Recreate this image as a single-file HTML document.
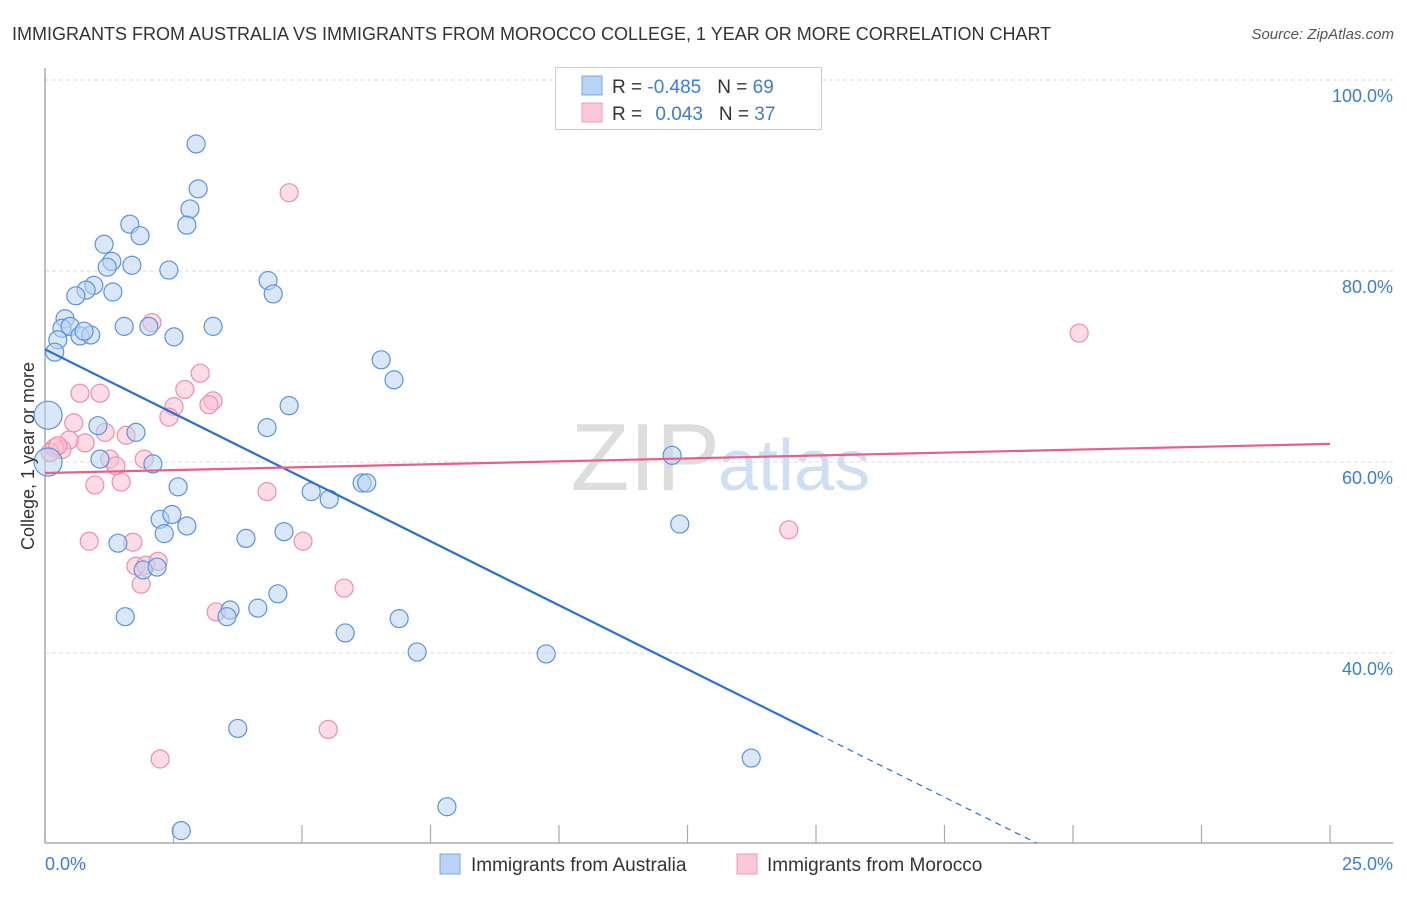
<!DOCTYPE html>
<html><head><meta charset="utf-8"><style>
body{margin:0;background:#fff;font-family:"Liberation Sans",sans-serif;}
svg text{font-family:"Liberation Sans",sans-serif;}
</style></head><body>
<svg id="chart" width="1406" height="892" viewBox="0 0 1406 892">
<text x="12" y="40" font-size="18" fill="#333">IMMIGRANTS FROM AUSTRALIA VS IMMIGRANTS FROM MOROCCO COLLEGE, 1 YEAR OR MORE CORRELATION CHART</text>
<text x="1394" y="39" font-size="15" fill="#555" font-style="italic" text-anchor="end">Source: ZipAtlas.com</text>
<text x="720" y="490" font-size="96" fill="#ddd" text-anchor="end" font-family="Liberation Serif">ZIP</text>
<text x="718" y="490" font-size="72" fill="#cfdff3">atlas</text>
<g id="grid"></g>
<g id="axes"></g>
<g id="points"></g>
<g id="lines"></g>
<text transform="translate(34,456) rotate(-90)" font-size="18" fill="#333" text-anchor="middle">College, 1 year or more</text>
<text x="45" y="870" font-size="18" fill="#3b7dd8">0.0%</text>
<text x="1393" y="870" font-size="18" fill="#3b7dd8" text-anchor="end">25.0%</text>
<g>
<rect x="555.5" y="67.5" width="266" height="62" fill="#fff" stroke="#ccc"/>
<rect x="582" y="76" width="20" height="19" fill="#b8d3f5" stroke="#7aa8e6"/>
<rect x="582" y="103" width="20" height="19" fill="#fcc8d7" stroke="#f09ab4"/>
<text x="612" y="93" font-size="19" fill="#333">R = <tspan fill="#3b7dd8">-0.485</tspan><tspan dx="16">N = </tspan><tspan fill="#3b7dd8">69</tspan></text>
<text x="612" y="120" font-size="19" fill="#333">R = <tspan dx="8" fill="#3b7dd8">0.043</tspan><tspan dx="16">N = </tspan><tspan fill="#3b7dd8">37</tspan></text>
</g>
<g>
<rect x="440" y="854" width="20" height="20" fill="#b8d3f5" stroke="#7aa8e6"/>
<text x="471" y="871" font-size="19" fill="#333">Immigrants from Australia</text>
<rect x="737" y="854" width="20" height="20" fill="#fcc8d7" stroke="#f09ab4"/>
<text x="767" y="871" font-size="19" fill="#333">Immigrants from Morocco</text>
</g>
</svg>
<script>
const yTicks=[40,60,80,100];
const yTickLabels=["40.0%","60.0%","80.0%","100.0%"];
const xTicks=[0,2.5,5,7.5,10,12.5,15,17.5,20,22.5,25];
const ausX=[2.94,2.98,2.82,2.76,1.65,1.85,1.15,1.30,1.21,1.69,2.41,4.34,4.44,0.95,0.80,0.60,1.32,0.39,0.33,0.49,0.68,0.89,0.76,0.25,0.19,1.54,2.02,2.51,3.27,6.54,6.79,4.75,1.03,1.77,4.32,1.07,2.10,0.06,0.06,2.59,5.18,5.53,6.17,6.26,12.20,12.35,2.24,2.47,2.76,2.32,1.42,3.91,4.65,1.91,2.18,4.53,4.14,3.60,3.54,1.56,5.84,6.89,7.24,9.75,3.75,13.74,7.82,2.65];
const ausY=[93.3,88.6,86.5,84.8,84.9,83.7,82.8,81.0,80.4,80.6,80.1,79.0,77.6,78.5,78.0,77.4,77.8,75.0,74.0,74.2,73.2,73.3,73.7,72.8,71.5,74.2,74.2,73.1,74.2,70.7,68.6,65.9,63.8,63.1,63.6,60.3,59.8,64.9,60.0,57.4,56.9,56.1,57.8,57.8,60.7,53.5,54.0,54.5,53.3,52.5,51.5,52.0,52.7,48.7,49.0,46.2,44.7,44.5,43.8,43.8,42.1,43.6,40.1,39.9,32.1,29.0,23.9,21.4];
const morX=[4.75,20.12,2.08,3.02,3.27,3.19,2.72,2.51,2.41,0.68,1.07,0.56,1.17,1.58,0.78,0.47,0.33,0.19,0.10,0.25,1.26,1.38,1.93,0.97,1.48,4.32,14.47,0.86,1.71,5.02,1.77,1.96,1.87,2.20,5.82,3.33,5.51,2.24];
const morY=[88.2,73.5,74.6,69.3,66.4,66.0,67.6,65.8,64.7,67.2,67.2,64.1,63.1,62.8,62.0,62.3,61.3,61.5,61.0,61.7,60.3,59.6,60.3,57.6,57.9,56.9,52.9,51.7,51.6,51.7,49.1,49.2,47.2,49.6,46.8,44.3,32.0,28.9];
const ausTrend=[71.8,-2.68];
const ausSolidEnd=15.04;
const morTrend=[58.85,0.122];
const NS="http://www.w3.org/2000/svg";
const X0=45,X1=1330,YB=843;
function sx(v){return X0+v*(X1-X0)/25;}
function sy(v){return 271+(80-v)*9.55;}
function mk(tag,attrs,parent){const e=document.createElementNS(NS,tag);for(const k in attrs)e.setAttribute(k,attrs[k]);parent.appendChild(e);return e;}
const grid=document.getElementById('grid'),axes=document.getElementById('axes'),pts=document.getElementById('points'),lines=document.getElementById('lines');
yTicks.forEach((t,i)=>{
 const l=mk('line',{x1:X0,x2:1393,y1:sy(t),y2:sy(t),stroke:'#ddd','stroke-dasharray':'4 3'},grid);
 
 
 const tx=mk('text',{x:1393,y:sy(t)+22,'font-size':18,fill:'#3b7dd8','text-anchor':'end'},grid);
 tx.textContent=yTickLabels[i];
 
 
});
const ya=mk('line',{x1:X0,x2:X0,y1:68,y2:YB,stroke:'#aaa','stroke-width':1.5},axes);


const xa=mk('line',{x1:X0,x2:1393,y1:YB,y2:YB,stroke:'#aaa','stroke-width':1.5},axes);


xTicks.forEach(t=>{
 const l=mk('line',{x1:sx(t),x2:sx(t),y1:YB-18,y2:YB,stroke:'#aaa','stroke-width':1.2},axes);
 
 
});
function drawPts(xs,ys,fill,stroke,name){
 xs.forEach((x,i)=>{
  const big=(x<0.1&&name==='australia-point');
  const c=mk('circle',{cx:sx(x),cy:sy(ys[i]),r:big?14:9,fill:fill,'fill-opacity':0.55,stroke:stroke,'stroke-width':1.2},pts);
  
  
 });
}
drawPts(morX,morY,'#fcc0d2','#ee8fab','morocco-point');
drawPts(ausX,ausY,'#b9d3f4','#5b93e0','australia-point');
const f=(tr,x)=>tr[0]+tr[1]*x;
const xEnd=(20.1-ausTrend[0])/ausTrend[1];
const l1=mk('line',{x1:sx(0),y1:sy(f(ausTrend,0)),x2:sx(ausSolidEnd),y2:sy(f(ausTrend,ausSolidEnd)),stroke:'#2b6fd6','stroke-width':2.2},lines);


const l2=mk('line',{x1:sx(ausSolidEnd),y1:sy(f(ausTrend,ausSolidEnd)),x2:sx(xEnd),y2:sy(f(ausTrend,xEnd)),stroke:'#2b6fd6','stroke-width':1.2,'stroke-dasharray':'6 5'},lines);


const l3=mk('line',{x1:sx(0),y1:sy(f(morTrend,0)),x2:sx(25),y2:sy(f(morTrend,25)),stroke:'#e8608a','stroke-width':2.2},lines);


</script>
</body></html>
